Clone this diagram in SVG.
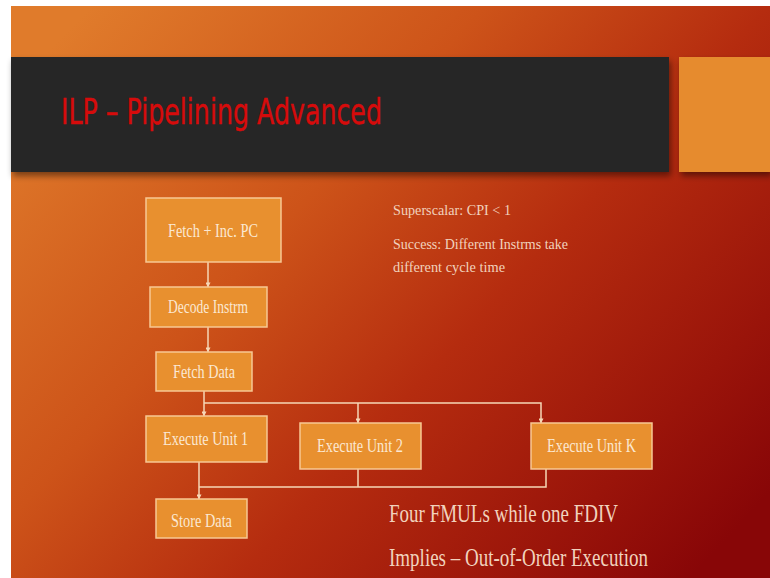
<svg xmlns="http://www.w3.org/2000/svg" width="770" height="578" viewBox="0 0 770 578">
  <defs>
    <linearGradient id="bg" x1="0" y1="0.15" x2="1" y2="0.85">
      <stop offset="0" stop-color="#e07b2b"/>
      <stop offset="0.35" stop-color="#cd5319"/>
      <stop offset="0.6" stop-color="#b52c0f"/>
      <stop offset="0.85" stop-color="#9a140a"/>
      <stop offset="1" stop-color="#880607"/>
    </linearGradient>
    <filter id="shadow" x="-5%" y="-10%" width="110%" height="130%">
      <feDropShadow dx="2" dy="4" stdDeviation="3" flood-color="#000" flood-opacity="0.45"/>
    </filter>
    <marker id="arrow" viewBox="0 0 6 6" refX="5.5" refY="3" markerWidth="5" markerHeight="5" markerUnits="userSpaceOnUse" orient="auto">
      <path d="M0,0 L6,3 L0,6 Z" fill="#f6d7b6"/>
    </marker>
  </defs>
  <style>
    .box { fill: #e8902f; stroke: #f7c894; stroke-width: 1.5; }
    .lbl { font-family: "Liberation Serif", "Times New Roman", serif; font-size: 18px; fill: #fbe8d2; }
    .wire { fill: none; stroke: #f6d7b6; stroke-width: 1.5; }
    .note { font-family: "Liberation Serif", "Times New Roman", serif; fill: #f1d2bd; }
  </style>

  <!-- slide background -->
  <rect x="0" y="0" width="770" height="578" fill="#ffffff"/>
  <rect x="11" y="6" width="759" height="572" fill="url(#bg)"/>

  <!-- title banner -->
  <g id="banner">
    <rect x="11" y="57" width="658" height="115" fill="#262626" filter="url(#shadow)"/>
    <rect x="679" y="57" width="91" height="115" fill="#e68b2f" filter="url(#shadow)"/>
    <text x="61" y="124" font-family="DejaVu Sans Condensed, DejaVu Sans, sans-serif" font-size="36" fill="#d60b0b" stroke="#d60b0b" stroke-width="0.4" textLength="321" lengthAdjust="spacingAndGlyphs">ILP – Pipelining Advanced</text>
  </g>

  <!-- connectors -->
  <g id="connectors">
    <line class="wire" x1="208" y1="262" x2="208" y2="287" marker-end="url(#arrow)"/>
    <line class="wire" x1="208" y1="327" x2="208" y2="352" marker-end="url(#arrow)"/>
    <line class="wire" x1="204" y1="391" x2="204" y2="416" marker-end="url(#arrow)"/>
    <polyline class="wire" points="204,403 541,403 541,423" marker-end="url(#arrow)"/>
    <line class="wire" x1="358" y1="403" x2="358" y2="423" marker-end="url(#arrow)"/>
    <line class="wire" x1="199" y1="462" x2="199" y2="499" marker-end="url(#arrow)"/>
    <polyline class="wire" points="546,469 546,487 199,487"/>
    <line class="wire" x1="358" y1="469" x2="358" y2="487"/>
  </g>

  <!-- pipeline stages -->
  <g id="fetch-pc">
    <rect class="box" x="146" y="198" width="135" height="64"/>
    <text class="lbl" x="168" y="237" textLength="90" lengthAdjust="spacingAndGlyphs">Fetch + Inc. PC</text>
  </g>
  <g id="decode">
    <rect class="box" x="150" y="287" width="117" height="40"/>
    <text class="lbl" x="168" y="313" textLength="80" lengthAdjust="spacingAndGlyphs">Decode Instrm</text>
  </g>
  <g id="fetch-data">
    <rect class="box" x="156" y="352" width="96" height="39"/>
    <text class="lbl" x="173" y="378" textLength="62" lengthAdjust="spacingAndGlyphs">Fetch Data</text>
  </g>
  <g id="exec-1">
    <rect class="box" x="146" y="416" width="121" height="46"/>
    <text class="lbl" x="163" y="445" textLength="85" lengthAdjust="spacingAndGlyphs">Execute Unit 1</text>
  </g>
  <g id="exec-2">
    <rect class="box" x="300" y="423" width="121" height="46"/>
    <text class="lbl" x="317" y="452" textLength="86" lengthAdjust="spacingAndGlyphs">Execute Unit 2</text>
  </g>
  <g id="exec-k">
    <rect class="box" x="531" y="423" width="121" height="46"/>
    <text class="lbl" x="547" y="452" textLength="89" lengthAdjust="spacingAndGlyphs">Execute Unit K</text>
  </g>
  <g id="store-data">
    <rect class="box" x="156" y="499" width="91" height="39"/>
    <text class="lbl" x="171" y="527" textLength="61" lengthAdjust="spacingAndGlyphs">Store Data</text>
  </g>

  <!-- notes -->
  <g id="notes">
    <text class="note" x="393" y="215" font-size="15" textLength="118" lengthAdjust="spacingAndGlyphs">Superscalar: CPI &lt; 1</text>
    <text class="note" x="393" y="249" font-size="15" textLength="175" lengthAdjust="spacingAndGlyphs">Success: Different Instrms take</text>
    <text class="note" x="393" y="272" font-size="15" textLength="112" lengthAdjust="spacingAndGlyphs">different cycle time</text>
    <text class="note" x="389" y="522" font-size="25" textLength="229" lengthAdjust="spacingAndGlyphs">Four FMULs while one FDIV</text>
    <text class="note" x="389" y="566" font-size="25" textLength="259" lengthAdjust="spacingAndGlyphs">Implies – Out-of-Order Execution</text>
  </g>
</svg>
